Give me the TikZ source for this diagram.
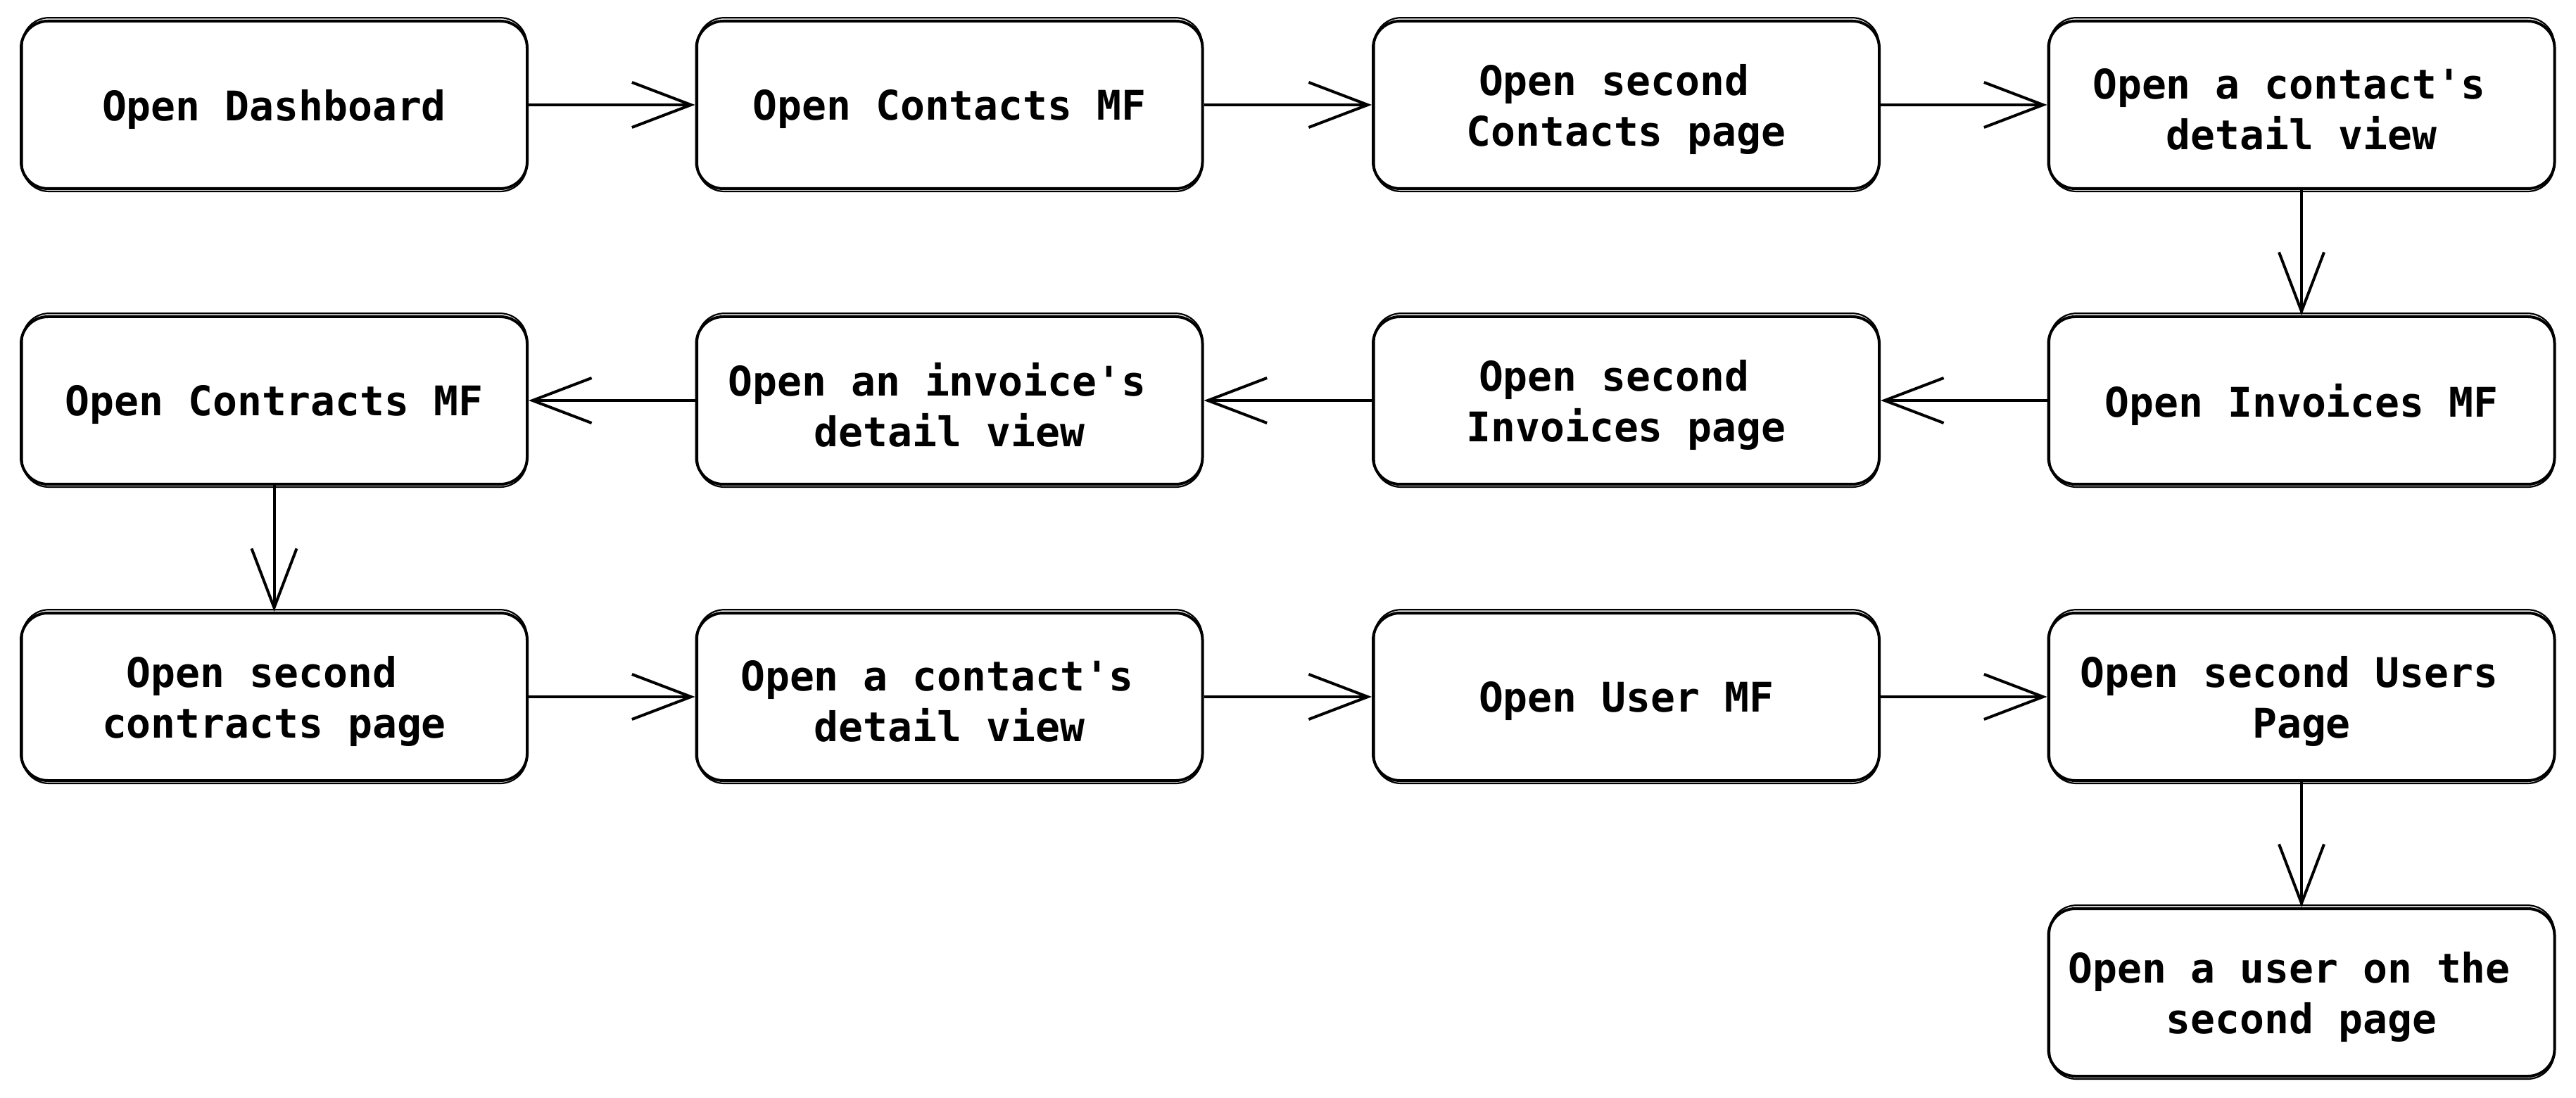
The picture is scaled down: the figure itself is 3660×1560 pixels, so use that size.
\documentclass[tikz,border=0pt]{standalone}
\usepackage{fontspec}
\newfontfamily\boxfont{DejaVu Sans Mono}
\usetikzlibrary{arrows.meta,calc}
\begin{document}
\begin{tikzpicture}[x=0.25pt,y=-0.25pt,
  box/.style={draw, line width=1pt, rounded corners=9.5pt, minimum width=179.75pt,
    minimum height=59.5pt, inner sep=0pt},
  txt/.style={align=center, inner sep=0pt,
    font=\boxfont\bfseries\fontsize{14.5}{18}\selectfont},
  sketch/.style={line width=0.55pt, rounded corners=9.5pt},
  conn/.style={line width=1pt, -{Straight Barb[length=21pt,width=16pt,line width=1pt]}}]
\useasboundingbox (0,0) rectangle (3660,1560);
\fill[white] (0,0) rectangle (3660,1560);
\def\sp{\phantom{x}}
\newcommand\stepnode[4]{%
  \node[box] (#1) at (#2,#3) {};
  \node[txt] (#1t) at ([yshift=-1.6pt]#1.center) {#4};
}
% row 1
\stepnode{a1}{389.5}{149}{Open Dashboard}
\stepnode{a2}{1349}{149}{Open Contacts MF}
\stepnode{a3}{2310.5}{149}{Open second\sp\\Contacts page}
\stepnode{a4}{3270}{149}{Open a contact's\sp\\detail view}
% row 2
\stepnode{b1}{389.5}{569}{Open Contracts MF}
\stepnode{b2}{1349}{569}{Open an invoice's\sp\\detail view}
\stepnode{b3}{2310.5}{569}{Open second\sp\\Invoices page}
\stepnode{b4}{3270}{569}{Open Invoices MF}
% row 3
\stepnode{c1}{389.5}{990}{Open second\sp\\contracts page}
\stepnode{c2}{1349}{990}{Open a contact's\sp\\detail view}
\stepnode{c3}{2310.5}{990}{Open User MF}
\stepnode{c4}{3270}{990}{Open second Users\sp\\Page}
% row 4
\stepnode{d4}{3270}{1410}{Open a user on the\sp\\second page}
% sketchy second strokes
\foreach \n in {a1,a2,a3,a4,b1,b2,b3,b4,c1,c2,c3,c4,d4}{
  \draw[sketch] ($(\n.south west)+(0.9pt,-0.5pt)$) rectangle ($(\n.north east)+(-0.6pt,0.7pt)$);
}
% connectors
\draw[conn] (a1) -- (a2);
\draw[conn] (a2) -- (a3);
\draw[conn] (a3) -- (a4);
\draw[conn] (a4) -- (b4);
\draw[conn] (b4) -- (b3);
\draw[conn] (b3) -- (b2);
\draw[conn] (b2) -- (b1);
\draw[conn] (b1) -- (c1);
\draw[conn] (c1) -- (c2);
\draw[conn] (c2) -- (c3);
\draw[conn] (c3) -- (c4);
\draw[conn] (c4) -- (d4);
\end{tikzpicture}
\end{document}
